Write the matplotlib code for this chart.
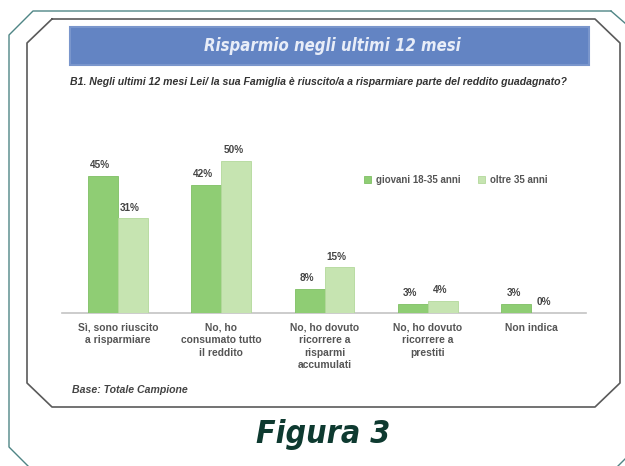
import numpy as np
import matplotlib
matplotlib.use("Agg")
import matplotlib.pyplot as plt

# =========================================
# Data
# =========================================
categories = [
    "Sì, sono riuscito\na risparmiare",
    "No, ho\nconsumato tutto\nil reddito",
    "No, ho dovuto\nricorrere a\nrisparmi\naccumulati",
    "No, ho dovuto\nricorrere a\nprestiti",
    "Non indica",
]
giovani = [45, 42, 8, 3, 3]
oltre = [31, 50, 15, 4, 0]
series_names = ["giovani 18-35 anni", "oltre 35 anni"]

title = "Risparmio negli ultimi 12 mesi"
question = ("B1. Negli ultimi 12 mesi Lei/ la sua Famiglia è riuscito/a "
            "a risparmiare parte del reddito guadagnato?")
base_note = "Base: Totale Campione"
caption = "Figura 3"

plt.rcParams["font.family"] = ["Liberation Sans", "DejaVu Sans"]

W, H = 625, 466
fig = plt.figure(figsize=(W / 100, H / 100), dpi=100)
fig.patch.set_facecolor("white")

# decoration layer in pixel coordinates (y downwards)
deco = fig.add_axes([0, 0, 1, 1])
deco.set_xlim(0, W)
deco.set_ylim(H, 0)
deco.axis("off")

# outer frame (teal)
deco.plot([611, 33, 9, 9, 28], [11, 11, 35, 447, 466], color="#4f8585", lw=1.0)
deco.plot([611, 626], [11, 24], color="#4f8585", lw=1.0)
deco.plot([618, 626], [466, 458], color="#4f8585", lw=1.0)

# inner frame (grey)
inner_x = [52, 595, 620, 620, 595, 52, 27, 27, 52]
inner_y = [19, 19, 43, 383, 407, 407, 383, 43, 19]
deco.plot(inner_x, inner_y, color="#5a5a5a", lw=1.2)

# title banner
deco.add_patch(plt.Rectangle((70, 27), 519, 38, facecolor="#6384c3",
                             edgecolor="#7a96cc", lw=1.5))
deco.text(332, 46, title, color="#e8edf8", fontsize=12, fontstyle="italic",
          fontweight="bold", ha="center", va="center", family="DejaVu Sans",
          fontstretch="condensed")

deco.text(70, 82, question, color="#333333", fontsize=7.6, fontstyle="italic",
          fontweight="bold", ha="left", va="center")
deco.text(72, 390, base_note, color="#444444", fontsize=7.6, fontstyle="italic",
          fontweight="bold", ha="left", va="center")
deco.text(323, 434, caption, color="#0e3a30", fontsize=23, fontstyle="italic",
          fontweight="bold", ha="center", va="center", family="DejaVu Sans",
          fontstretch="condensed")

# baseline
deco.plot([62, 586], [313, 313], color="#c4c4c4", lw=1.2)

# =========================================
# Bar chart
# =========================================
px_per_pct = 3.05
ax_top, ax_bot = 140, 313
ax = fig.add_axes([62 / W, 1 - ax_bot / H, (586 - 62) / W, (ax_bot - ax_top) / H])
ax.patch.set_alpha(0)
ax.set_ylim(0, (ax_bot - ax_top) / px_per_pct)
ax.set_xlim(-0.54, 4.53)
ax.axis("off")

x = np.arange(len(categories))
w = 0.29
c1, c2 = "#8fcd74", "#c6e4b1"
b1 = ax.bar(x - w / 2, giovani, w, color=c1, edgecolor="#7fbf64", lw=0.6,
            label=series_names[0])
b2 = ax.bar(x + w / 2, oltre, w, color=c2, edgecolor="#b3d89b", lw=0.6,
            label=series_names[1])

for bars, vals in ((b1, giovani), (b2, oltre)):
    for rect, v in zip(bars, vals):
        ax.annotate(f"{v}%", (rect.get_x() + rect.get_width() / 2, v),
                    xytext=(-2, 4), textcoords="offset points", ha="center",
                    va="bottom", fontsize=7.2, fontweight="bold", color="#444444")

for xi, lab in zip(x, categories):
    ax.annotate(lab, (xi, 0), xytext=(0, -7), textcoords="offset points",
                ha="center", va="top", fontsize=7.4, fontweight="bold",
                color="#555555", linespacing=1.3)

ax.legend(loc="center", bbox_to_anchor=((456 - 62) / (586 - 62), (313 - 180) / (313 - 140)),
          ncol=2, frameon=False, prop={"size": 7, "weight": "bold"},
          handlelength=0.7, handleheight=0.7,
          columnspacing=1.8, handletextpad=0.5, labelcolor="#555555")

fig.savefig("out.png", dpi=100, facecolor="white")
